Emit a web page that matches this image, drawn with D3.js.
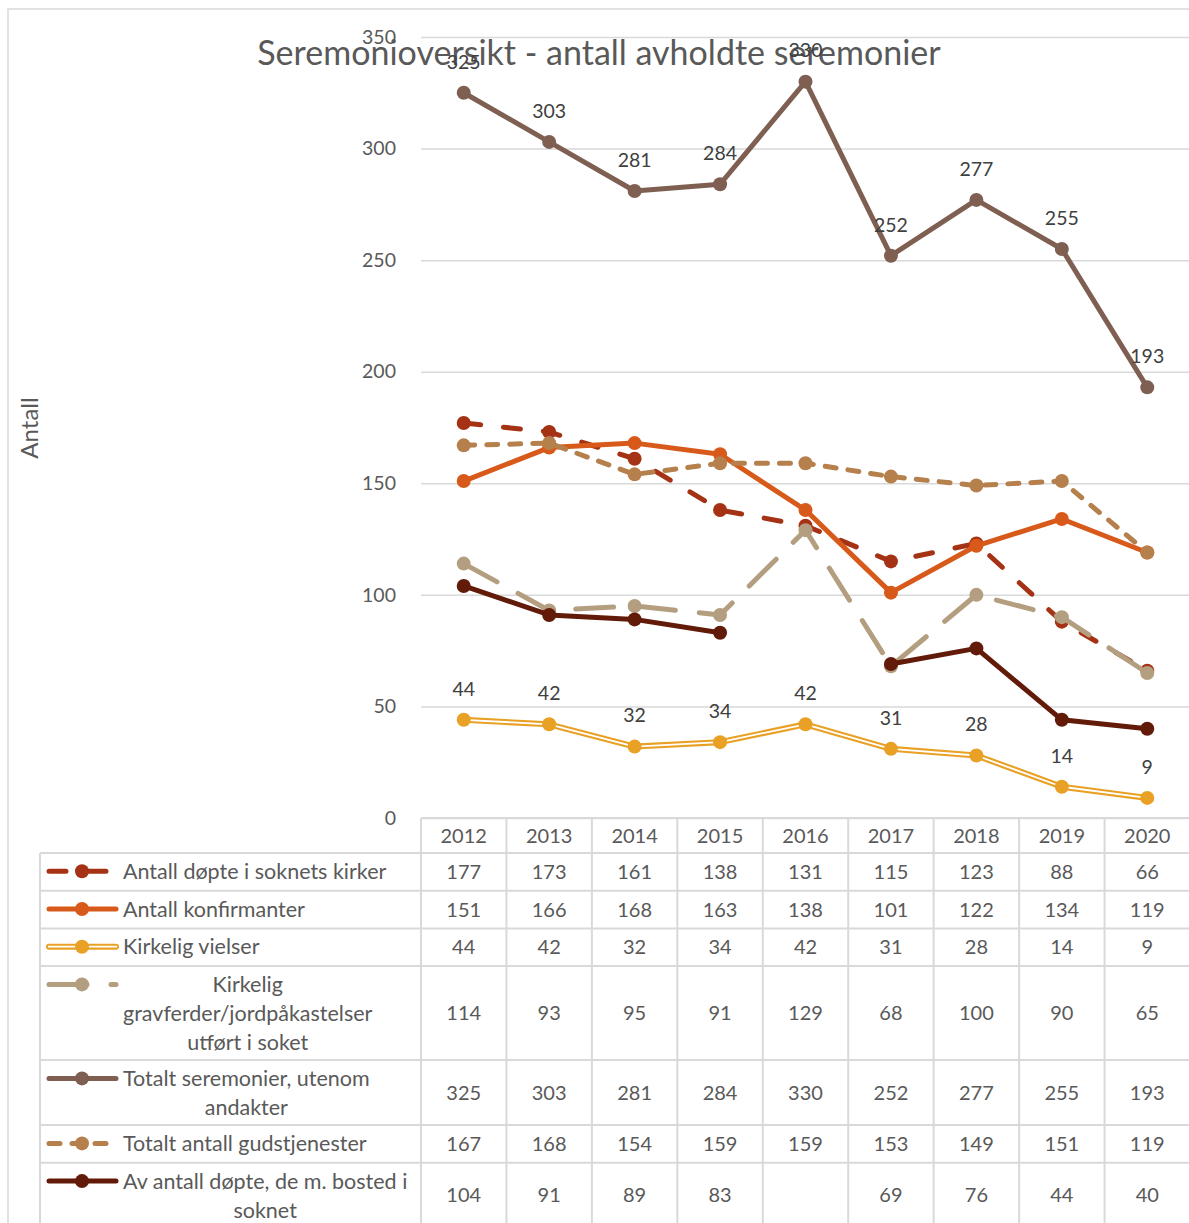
<!DOCTYPE html>
<html>
<head>
<meta charset="utf-8">
<script src="https://cdn.jsdelivr.net/npm/d3@7"></script>
<style>
  body { margin: 0; background: #fff; }
  svg { display: block; font-family: Lato, "Open Sans", sans-serif; }
</style>
</head>
<body>
<div id="chart"></div>
<script>
// Data
const years = ['2012', '2013', '2014', '2015', '2016', '2017', '2018', '2019', '2020'];
const yTicks = [0, 50, 100, 150, 200, 250, 300, 350];

const dopte = [177, 173, 161, 138, 131, 115, 123, 88, 66];
const konfirmanter = [151, 166, 168, 163, 138, 101, 122, 134, 119];
const vielser = [44, 42, 32, 34, 42, 31, 28, 14, 9];
const gravferder = [114, 93, 95, 91, 129, 68, 100, 90, 65];
const totaltSeremonier = [325, 303, 281, 284, 330, 252, 277, 255, 193];
const gudstjenester = [167, 168, 154, 159, 159, 153, 149, 151, 119];
const bosted = [104, 91, 89, 83, null, 69, 76, 44, 40];

const seriesNames = [
  ['Antall døpte i soknets kirker'],
  ['Antall konfirmanter'],
  ['Kirkelig vielser'],
  ['Kirkelig', 'gravferder/jordpåkastelser', 'utført i soket'],
  ['Totalt seremonier, utenom', 'andakter'],
  ['Totalt antall gudstjenester'],
  ['Av antall døpte, de m. bosted i', 'soknet']
];

// Chart settings
const W = 1189, H = 1223;
const plot = { left: 421, right: 1190, top: 37, bottom: 818 };
const textColor = '#595959';
const gridColor = '#d9d9d9';

const series = [
  { values: dopte, color: '#A53214', dash: '17,23' },
  { values: konfirmanter, color: '#D85A1A', dash: null },
  { values: vielser, color: '#E8A025', dash: null, double: true, labels: true },
  { values: gravferder, color: '#B49E80', dash: '38,24' },
  { values: totaltSeremonier, color: '#7E5F52', dash: null, labels: true },
  { values: gudstjenester, color: '#B5804C', dash: '11,12' },
  { values: bosted, color: '#621B09', dash: null }
];
series.forEach((s, i) => { s.name = seriesNames[i]; });

const svg = d3.select('#chart').append('svg')
  .attr('width', W)
  .attr('height', H);

// outer chart border
svg.append('rect')
  .attr('x', 8).attr('y', 9)
  .attr('width', W + 20).attr('height', H + 20)
  .attr('fill', 'none')
  .attr('stroke', gridColor)
  .attr('stroke-width', 1.5);

const x = d3.scaleBand()
  .domain(years)
  .range([plot.left, plot.right]);

const y = d3.scaleLinear()
  .domain([0, 350])
  .range([plot.bottom, plot.top]);

const cx = d => x(d) + x.bandwidth() / 2;

// gridlines
svg.append('g')
  .attr('transform', `translate(${plot.left},0)`)
  .call(d3.axisLeft(y).tickValues(yTicks).tickSize(-(plot.right - plot.left)).tickFormat(''))
  .call(g => g.select('.domain').remove())
  .selectAll('line')
  .attr('stroke', gridColor)
  .attr('stroke-width', 1.5);

// y axis labels
svg.append('g')
  .attr('transform', `translate(${plot.left - 22},0)`)
  .call(d3.axisLeft(y).tickValues(yTicks).tickSize(0))
  .call(g => g.select('.domain').remove())
  .selectAll('text')
  .attr('fill', textColor)
  .style('font-size', '19.5px')
  .style('font-family', 'Lato, sans-serif');

// y axis title
svg.append('text')
  .attr('transform', 'translate(38,428) rotate(-90)')
  .attr('text-anchor', 'middle')
  .attr('fill', textColor)
  .style('font-size', '24px')
  .text('Antall');

// title
svg.append('text')
  .attr('x', 599)
  .attr('y', 65)
  .attr('text-anchor', 'middle')
  .attr('fill', textColor)
  .style('font-size', '34px')
  .text('Seremonioversikt - antall avholdte seremonier');

// lines and markers
const line = d3.line()
  .defined(d => d.v != null)
  .x(d => cx(d.year))
  .y(d => y(d.v));

series.forEach(s => {
  const pts = s.values.map((v, i) => ({ year: years[i], v }));
  const g = svg.append('g');
  g.append('path')
    .attr('d', line(pts))
    .attr('fill', 'none')
    .attr('stroke', s.color)
    .attr('stroke-width', s.double ? 6 : 5)
    .attr('stroke-linecap', 'round')
    .attr('stroke-linejoin', 'round')
    .attr('stroke-dasharray', s.dash);
  if (s.double) {
    g.append('path')
      .attr('d', line(pts))
      .attr('fill', 'none')
      .attr('stroke', '#fff')
      .attr('stroke-width', 1.8)
      .attr('stroke-linejoin', 'round');
  }
  g.selectAll('circle')
    .data(pts.filter(d => d.v != null))
    .enter().append('circle')
    .attr('cx', d => cx(d.year))
    .attr('cy', d => y(d.v))
    .attr('r', 7)
    .attr('fill', s.color);
});

// data labels
series.filter(s => s.labels).forEach(s => {
  svg.append('g').selectAll('text')
    .data(s.values.map((v, i) => ({ year: years[i], v })))
    .enter().append('text')
    .attr('x', d => cx(d.year))
    .attr('y', d => y(d.v) - 31)
    .attr('dy', '0.35em')
    .attr('text-anchor', 'middle')
    .attr('fill', '#404040')
    .style('font-size', '19.5px')
    .text(d => d.v);
});

// data table
const tableLeft = 40;
const headerTop = plot.bottom;
const headerH = 35;
const lineH = 29;
const rowH = n => (n === 1 ? 37.7 : 7 + lineH * n);

const table = svg.append('g');
const tableFont = '20px';
const nameFont = '21.5px';

// header row
table.selectAll('.hdr')
  .data(years)
  .enter().append('text')
  .attr('x', d => cx(d))
  .attr('y', headerTop + headerH / 2)
  .attr('dy', '0.35em')
  .attr('text-anchor', 'middle')
  .attr('fill', textColor)
  .style('font-size', tableFont)
  .text(d => d);

let rowTop = headerTop + headerH;
const rowLines = [rowTop];
series.forEach(s => {
  const h = rowH(s.name.length);
  // legend key
  const keyY = rowTop + 18.3;
  const kg = table.append('g');
  kg.append('line')
    .attr('x1', 49).attr('x2', 116)
    .attr('y1', keyY).attr('y2', keyY)
    .attr('stroke', s.color)
    .attr('stroke-width', s.double ? 6 : 5)
    .attr('stroke-linecap', 'round')
    .attr('stroke-dasharray', s.dash);
  if (s.double) {
    kg.append('line')
      .attr('x1', 48).attr('x2', 117)
      .attr('y1', keyY).attr('y2', keyY)
      .attr('stroke', '#fff')
      .attr('stroke-width', 1.8);
  }
  kg.append('circle')
    .attr('cx', 82).attr('cy', keyY).attr('r', 7)
    .attr('fill', s.color);

  // series name, wrapped lines centred on the widest one
  const nameG = table.append('g');
  const texts = s.name.map((t, i) => nameG.append('text')
    .attr('y', keyY + i * lineH)
    .attr('dy', '0.35em')
    .attr('text-anchor', 'middle')
    .attr('fill', textColor)
    .style('font-size', nameFont)
    .text(t));
  const maxW = d3.max(texts, t => t.node().getComputedTextLength());
  texts.forEach(t => t.attr('x', 123 + maxW / 2));

  // values
  table.append('g').selectAll('text')
    .data(s.values.map((v, i) => ({ year: years[i], v })))
    .enter().append('text')
    .attr('x', d => cx(d.year))
    .attr('y', rowTop + h / 2)
    .attr('dy', '0.35em')
    .attr('text-anchor', 'middle')
    .attr('fill', textColor)
    .style('font-size', tableFont)
    .text(d => d.v == null ? '' : d.v);

  rowTop += h;
  rowLines.push(rowTop);
});

// table grid
const gridG = table.append('g')
  .attr('stroke', gridColor)
  .attr('stroke-width', 2);
gridG.append('line')
  .attr('x1', plot.left).attr('x2', plot.right)
  .attr('y1', headerTop).attr('y2', headerTop);
rowLines.forEach(yy => {
  gridG.append('line')
    .attr('x1', tableLeft).attr('x2', plot.right)
    .attr('y1', yy).attr('y2', yy);
});
gridG.append('line')
  .attr('x1', tableLeft).attr('x2', tableLeft)
  .attr('y1', headerTop + headerH).attr('y2', rowTop);
years.forEach(yr => {
  gridG.append('line')
    .attr('x1', x(yr)).attr('x2', x(yr))
    .attr('y1', headerTop).attr('y2', rowTop);
});
gridG.append('line')
  .attr('x1', plot.right).attr('x2', plot.right)
  .attr('y1', headerTop).attr('y2', rowTop);
</script>
</body>
</html>
